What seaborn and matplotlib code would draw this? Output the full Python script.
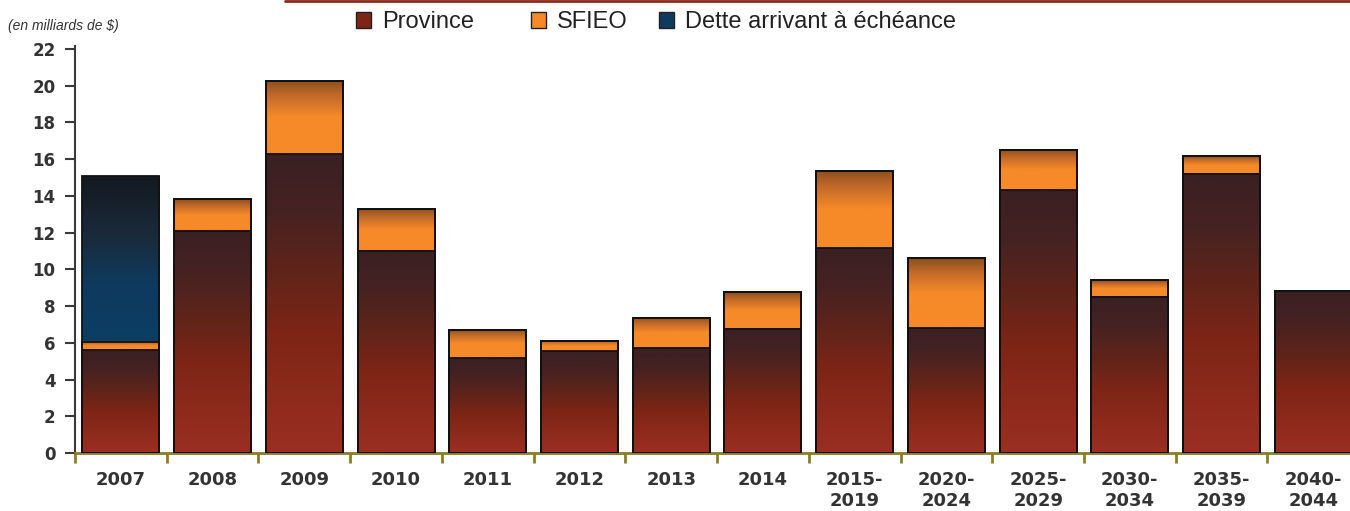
import numpy as np
import pandas as pd
import matplotlib
matplotlib.use("Agg")
import matplotlib.pyplot as plt
import seaborn as sns
from matplotlib.colors import LinearSegmentedColormap
from matplotlib.patches import Patch

# donnees (en milliards de $)
periodes = ["2007", "2008", "2009", "2010", "2011", "2012", "2013", "2014",
            "2015-\n2019", "2020-\n2024", "2025-\n2029", "2030-\n2034",
            "2035-\n2039", "2040-\n2044"]
province = [5.6, 12.1, 16.25, 11.0, 5.15, 5.55, 5.7, 6.75, 11.15, 6.8, 14.3, 8.5, 15.2, 8.8]
sfieo = [0.45, 1.7, 4.0, 2.3, 1.55, 0.55, 1.65, 2.0, 4.2, 3.8, 2.2, 0.9, 0.95, 0.0]
dette = [9.0, 0, 0, 0, 0, 0, 0, 0, 0, 0, 0, 0, 0, 0]

df = pd.DataFrame({"periode": periodes, "Province": province,
                   "SFIEO": sfieo, "Dette": dette})
df["niv1"] = df["Province"]
df["niv2"] = df["niv1"] + df["SFIEO"]
df["niv3"] = df["niv2"] + df["Dette"]

# degrades (bas -> haut)
cm_prov = LinearSegmentedColormap.from_list("prov", [(0, "#9b2f22"), (0.4, "#7e2516"),
                                                     (0.6, "#612419"), (0.8, "#472222"),
                                                     (1, "#3a2022")])
cm_sfieo = LinearSegmentedColormap.from_list("sfieo", [(0, "#f68a28"), (0.5, "#f68a28"),
                                                       (0.8, "#c0692a"), (1, "#8a4e1c")])
cm_dette = LinearSegmentedColormap.from_list("dette", [(0, "#0c3e64"), (0.35, "#0e3a5e"),
                                                       (0.65, "#1a2a3a"), (1, "#141920")])

sns.set_style("white")
plt.rcParams["font.family"] = ["Liberation Sans", "DejaVu Sans"]

fig = plt.figure(figsize=(13.5, 5.11), dpi=100)
ax = fig.add_axes([75 / 1350, 1 - 453 / 511, 1 - 75 / 1350, 407 / 511])

couches = [("niv3", "niv2", cm_dette), ("niv2", "niv1", cm_sfieo), ("niv1", None, cm_prov)]
grad = np.linspace(0, 1, 256).reshape(-1, 1)
for i, (col, dessous, cmap) in enumerate(couches):
    sns.barplot(data=df, x="periode", y=col, ax=ax, width=0.84, facecolor="none",
                edgecolor="#111111", linewidth=1.3, zorder=3 + i)
    cont = ax.containers[-1]
    for j, p in enumerate(cont.patches):
        haut = df[col].iloc[j]
        bas = df[dessous].iloc[j] if dessous else 0.0
        if haut - bas <= 0.001:
            continue
        x0 = p.get_x()
        ax.imshow(grad, cmap=cmap, origin="lower", aspect="auto",
                  extent=[x0, x0 + p.get_width(), bas, haut], zorder=1,
                  interpolation="bilinear")

ax.set_xlim(-0.5, 13.4)
ax.set_ylim(0, 22.15)
ax.set_yticks(range(0, 23, 2))
ax.set_xlabel("")
ax.set_ylabel("")

for s in ["top", "right"]:
    ax.spines[s].set_visible(False)
ax.spines["left"].set_color("#3a3a3a")
ax.spines["left"].set_linewidth(1.5)
ax.spines["bottom"].set_color("#8b7d22")
ax.spines["bottom"].set_linewidth(2)

ax.tick_params(axis="y", left=True, direction="out", length=7, width=1.5, color="#3a3a3a",
               labelsize=12, labelcolor="#333333", pad=7)
for t in ax.get_yticklabels():
    t.set_fontweight("bold")
    t.set_family("DejaVu Sans")

# ticks x entre les categories
ax.set_xticks(np.arange(len(periodes)) - 0.5, minor=False)
ax.set_xticklabels([""] * len(periodes))
ax.tick_params(axis="x", bottom=True, direction="out", length=7, width=2, color="#8b7d22")
for j, lab in enumerate(periodes):
    ax.text(j, -1.0, lab, ha="center", va="top", fontsize=13, fontweight="bold",
            color="#333333", linespacing=1.2, family="DejaVu Sans")

fig.text(8 / 1350, 1 - 26 / 511, "(en milliards de $)", fontsize=10, style="italic",
         color="#333333", va="center", ha="left")
fig.add_artist(plt.Line2D([285 / 1350, 1], [1 - 1 / 511, 1 - 1 / 511],
                          color="#8b2a1e", lw=2))

# legende: trois entrees placees separement
entrees = [("Province", "#7e2516", 356), ("SFIEO", "#f68a28", 531),
           ("Dette arrivant à échéance", "#0e3a5e", 659)]
for lab, coul, xpix in entrees:
    fig.legend(handles=[Patch(facecolor=coul, edgecolor="#222222", label=lab)],
               loc="center left", bbox_to_anchor=(xpix / 1350, 1 - 22 / 511),
               frameon=False, fontsize=17, handlelength=0.65, handleheight=0.65,
               handletextpad=0.45, borderpad=0, borderaxespad=0, labelcolor="#222222")

fig.savefig("out.png", dpi=100)
